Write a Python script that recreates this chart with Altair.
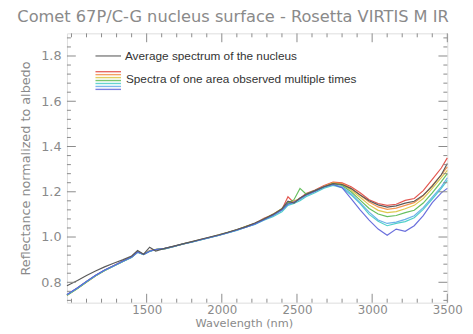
import altair as alt
import pandas as pd

# ---------------- data ----------------
wavelength = [970, 1040, 1100, 1160, 1220, 1280, 1340, 1400, 1440, 1480, 1520, 1560,
              1620, 1680, 1740, 1800, 1860, 1920, 1980, 2040, 2100, 2160, 2220, 2280,
              2340, 2400, 2440, 2480, 2520, 2560, 2620, 2680, 2740, 2800, 2860, 2920,
              2980, 3040, 3100, 3160, 3220, 3280, 3340, 3400, 3460, 3500]

average = [0.785, 0.808, 0.830, 0.850, 0.868, 0.884, 0.899, 0.916, 0.940, 0.924, 0.955, 0.938,
           0.950, 0.960, 0.970, 0.980, 0.990, 1.000, 1.010, 1.021, 1.033, 1.046, 1.062, 1.080,
           1.100, 1.125, 1.158, 1.150, 1.172, 1.188, 1.205, 1.222, 1.236, 1.232, 1.214, 1.186,
           1.160, 1.142, 1.132, 1.138, 1.150, 1.158, 1.185, 1.225, 1.275, 1.325]

s_red = [0.745, 0.775, 0.803, 0.830, 0.853, 0.873, 0.893, 0.913, 0.936, 0.922, 0.940, 0.945,
         0.948, 0.958, 0.969, 0.978, 0.989, 0.998, 1.008, 1.020, 1.032, 1.045, 1.060, 1.083,
         1.098, 1.122, 1.178, 1.152, 1.170, 1.192, 1.208, 1.228, 1.243, 1.240, 1.222, 1.196,
         1.165, 1.148, 1.140, 1.145, 1.162, 1.170, 1.205, 1.255, 1.305, 1.350]

s_orange = [0.742, 0.772, 0.800, 0.828, 0.851, 0.872, 0.892, 0.912, 0.933, 0.924, 0.938, 0.944,
            0.949, 0.959, 0.968, 0.979, 0.988, 0.999, 1.009, 1.019, 1.031, 1.046, 1.061, 1.078,
            1.101, 1.124, 1.150, 1.160, 1.168, 1.186, 1.204, 1.224, 1.240, 1.236, 1.215, 1.186,
            1.155, 1.133, 1.122, 1.128, 1.140, 1.152, 1.182, 1.228, 1.275, 1.310]

s_yellow = [0.744, 0.774, 0.802, 0.829, 0.852, 0.872, 0.891, 0.911, 0.934, 0.923, 0.939, 0.946,
            0.950, 0.958, 0.970, 0.979, 0.989, 0.998, 1.010, 1.021, 1.032, 1.047, 1.060, 1.080,
            1.100, 1.126, 1.148, 1.155, 1.172, 1.185, 1.202, 1.222, 1.238, 1.232, 1.208, 1.176,
            1.142, 1.118, 1.108, 1.112, 1.125, 1.140, 1.170, 1.215, 1.262, 1.295]

s_green = [0.743, 0.773, 0.801, 0.829, 0.852, 0.872, 0.892, 0.912, 0.935, 0.924, 0.938, 0.945,
           0.949, 0.958, 0.969, 0.978, 0.988, 0.998, 1.008, 1.020, 1.031, 1.045, 1.058, 1.079,
           1.096, 1.120, 1.150, 1.165, 1.215, 1.190, 1.205, 1.222, 1.236, 1.228, 1.200, 1.163,
           1.126, 1.102, 1.090, 1.095, 1.108, 1.118, 1.150, 1.195, 1.245, 1.280]

s_cyan = [0.744, 0.774, 0.802, 0.829, 0.852, 0.871, 0.891, 0.910, 0.932, 0.922, 0.936, 0.944,
          0.948, 0.957, 0.968, 0.977, 0.987, 0.997, 1.007, 1.018, 1.029, 1.043, 1.056, 1.074,
          1.090, 1.112, 1.140, 1.148, 1.160, 1.178, 1.196, 1.216, 1.228, 1.218, 1.186, 1.148,
          1.100, 1.070, 1.050, 1.060, 1.068, 1.085, 1.122, 1.168, 1.215, 1.250]

s_lightblue = [0.745, 0.775, 0.803, 0.830, 0.853, 0.872, 0.892, 0.911, 0.933, 0.923, 0.937, 0.945,
               0.949, 0.958, 0.969, 0.978, 0.988, 0.998, 1.008, 1.019, 1.030, 1.044, 1.057, 1.076,
               1.094, 1.118, 1.145, 1.152, 1.166, 1.184, 1.200, 1.220, 1.232, 1.222, 1.192, 1.152,
               1.110, 1.075, 1.060, 1.066, 1.078, 1.094, 1.130, 1.176, 1.222, 1.262]

s_blue = [0.746, 0.776, 0.804, 0.831, 0.854, 0.873, 0.893, 0.912, 0.934, 0.923, 0.937, 0.945,
          0.950, 0.959, 0.969, 0.978, 0.988, 0.998, 1.008, 1.019, 1.031, 1.044, 1.058, 1.077,
          1.096, 1.120, 1.146, 1.154, 1.170, 1.186, 1.203, 1.222, 1.232, 1.218, 1.170, 1.120,
          1.075, 1.035, 1.008, 1.035, 1.025, 1.050, 1.095, 1.152, 1.195, 1.215]

spectra_names = ["red", "orange", "yellow", "green", "cyan", "lightblue", "blue"]
spectra_colors = ["#e0443c", "#f2883e", "#d9c23a", "#55b84e", "#3ecbc4", "#5aa8e6", "#5a5fd8"]
spectra_values = [s_red, s_orange, s_yellow, s_green, s_cyan, s_lightblue, s_blue]

x_major = [1500, 2000, 2500, 3000, 3500]
x_minor = [1000, 1100, 1200, 1300, 1400, 1600, 1700, 1800, 1900, 2100, 2200, 2300, 2400,
           2600, 2700, 2800, 2900, 3100, 3200, 3300, 3400]
y_major = [0.8, 1.0, 1.2, 1.4, 1.6, 1.8]
y_minor = [0.72, 0.76, 0.84, 0.88, 0.92, 0.96, 1.04, 1.08, 1.12, 1.16, 1.24, 1.28, 1.32,
           1.36, 1.44, 1.48, 1.52, 1.56, 1.64, 1.68, 1.72, 1.76, 1.84, 1.88]

title_text = "Comet 67P/C-G nucleus surface - Rosetta VIRTIS M IR"
legend_avg = "Average spectrum of the nucleus"
legend_spec = "Spectra of one area observed multiple times"

# ---------------- build ----------------
W, H = 387, 274
GRAY = "#8a8a8a"
xs = alt.Scale(domain=[970, 3500], nice=False, zero=False)
ys = alt.Scale(domain=[0.71, 1.9], nice=False, zero=False)

rows = []
for name, vals in zip(spectra_names, spectra_values):
    for w, v in zip(wavelength, vals):
        rows.append({"wavelength": w, "reflectance": v, "series": name})
df_spec = pd.DataFrame(rows)
df_avg = pd.DataFrame({"wavelength": wavelength, "reflectance": average})

x_axis = alt.Axis(values=x_major, format="d", ticks=False, domain=False, grid=False,
                  labelFlush=False, labelColor=GRAY, labelFont="DejaVu Sans", labelFontSize=12,
                  labelPadding=2, title="Wavelength (nm)", titleColor=GRAY,
                  titleFont="DejaVu Sans", titleFontSize=11.5, titleFontWeight="normal",
                  titleX=180, titleY=21, titleBaseline="middle", titleAlign="center")
y_axis = alt.Axis(values=y_major, format=".1f", ticks=False, domain=False, grid=False,
                  labelColor=GRAY, labelFont="DejaVu Sans", labelFontSize=13, labelPadding=6,
                  title="Reflectance normalized to albedo", titleColor=GRAY,
                  titleFont="DejaVu Sans", titleFontSize=13, titleFontWeight="normal",
                  titleX=-42, titleY=H / 2, titleBaseline="middle", titleAlign="center")

X = lambda f: alt.X(f, scale=xs, axis=x_axis)
Y = lambda f: alt.Y(f, scale=ys, axis=y_axis)

spectra = alt.Chart(df_spec).mark_line(strokeWidth=1.2, opacity=0.9).encode(
    x=X("wavelength:Q"),
    y=Y("reflectance:Q"),
    color=alt.Color("series:N", scale=alt.Scale(domain=spectra_names, range=spectra_colors),
                    legend=None),
    detail="series:N",
)
avg_line = alt.Chart(df_avg).mark_line(strokeWidth=1.2, color="#5a5a5a").encode(
    x=X("wavelength:Q"),
    y=Y("reflectance:Q"),
)

layers = [spectra, avg_line]


def xticks(vals, y0, y1):
    return alt.Chart(pd.DataFrame({"v": vals})).mark_rule(color=GRAY, strokeWidth=1).encode(
        x=X("v:Q"), y=alt.value(y0), y2=alt.value(y1))


def yticks(vals, x0, x1):
    return alt.Chart(pd.DataFrame({"v": vals})).mark_rule(color=GRAY, strokeWidth=1).encode(
        y=Y("v:Q"), x=alt.value(x0), x2=alt.value(x1))


layers += [
    xticks(x_major, H, H - 9), xticks(x_minor, H, H - 4),
    xticks(x_major, 0, 9), xticks(x_minor, 0, 4),
    yticks(y_major, 0, 9), yticks(y_minor, 0, 4),
    yticks(y_major, W, W - 9), yticks(y_minor, W, W - 4),
]

one = pd.DataFrame({"t": [0]})
# title
layers.append(alt.Chart(pd.DataFrame({"t": [title_text]})).mark_text(
    font="DejaVu Sans", fontSize=16.5, color=GRAY, align="center", baseline="middle").encode(
    text="t:N", x=alt.value(169), y=alt.value(-17)))

# legend
layers.append(alt.Chart(one).mark_rule(color="#6a6a6a", strokeWidth=1.2).encode(
    x=alt.value(29), x2=alt.value(55), y=alt.value(23)))
for i, c in enumerate(spectra_colors):
    layers.append(alt.Chart(one).mark_rule(color=c, strokeWidth=1.4, opacity=0.8).encode(
        x=alt.value(29), x2=alt.value(55), y=alt.value(39 + 3 * i)))
layers.append(alt.Chart(pd.DataFrame({"t": [legend_avg]})).mark_text(
    font="Liberation Sans", fontSize=12, color="#333333", align="left", baseline="middle").encode(
    text="t:N", x=alt.value(59), y=alt.value(23)))
layers.append(alt.Chart(pd.DataFrame({"t": [legend_spec]})).mark_text(
    font="Liberation Sans", fontSize=12, color="#333333", align="left", baseline="middle").encode(
    text="t:N", x=alt.value(60), y=alt.value(47)))

chart = alt.layer(*layers).properties(
    width=W, height=H,
    autosize=alt.AutoSizeParams(type="none"),
    padding={"left": 60, "top": 23, "right": 18, "bottom": 24},
).configure_view(stroke=GRAY, strokeWidth=1).configure(background="white")

chart.save("out.html", embed_options={"renderer": "svg", "actions": False})
